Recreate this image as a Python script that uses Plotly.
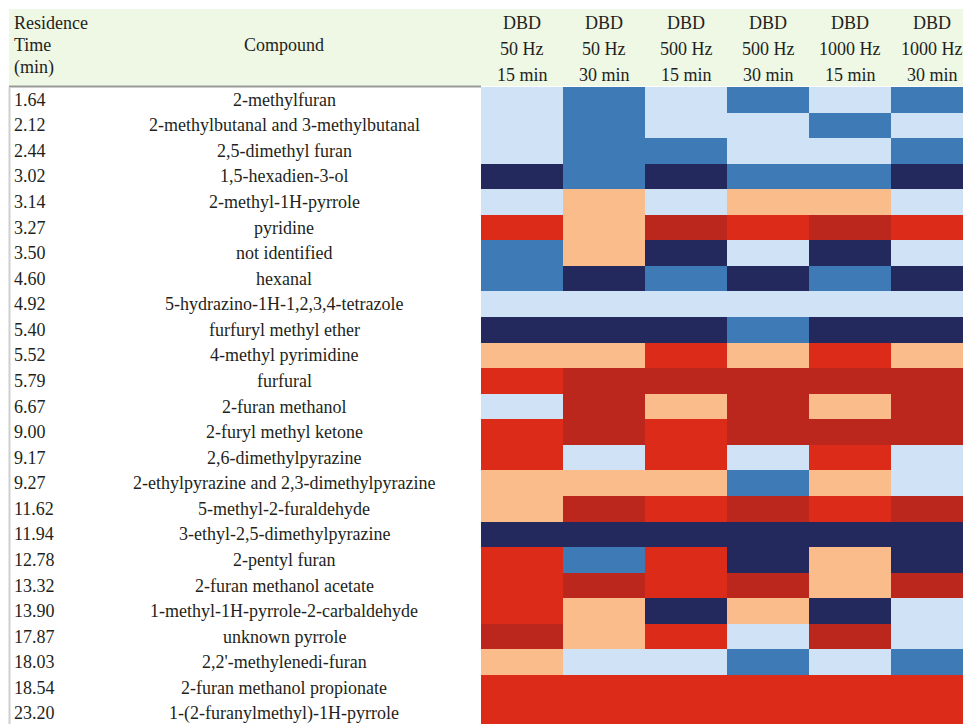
import plotly.graph_objects as go

# ---------------- data ----------------
residence_times = ["1.64", "2.12", "2.44", "3.02", "3.14", "3.27", "3.50", "4.60", "4.92",
                   "5.40", "5.52", "5.79", "6.67", "9.00", "9.17", "9.27", "11.62", "11.94",
                   "12.78", "13.32", "13.90", "17.87", "18.03", "18.54", "23.20"]
compounds = ["2-methylfuran", "2-methylbutanal and 3-methylbutanal", "2,5-dimethyl furan",
             "1,5-hexadien-3-ol", "2-methyl-1H-pyrrole", "pyridine", "not identified", "hexanal",
             "5-hydrazino-1H-1,2,3,4-tetrazole", "furfuryl methyl ether", "4-methyl pyrimidine",
             "furfural", "2-furan methanol", "2-furyl methyl ketone", "2,6-dimethylpyrazine",
             "2-ethylpyrazine and 2,3-dimethylpyrazine", "5-methyl-2-furaldehyde",
             "3-ethyl-2,5-dimethylpyrazine", "2-pentyl furan", "2-furan methanol acetate",
             "1-methyl-1H-pyrrole-2-carbaldehyde", "unknown pyrrole", "2,2'-methylenedi-furan",
             "2-furan methanol propionate", "1-(2-furanylmethyl)-1H-pyrrole"]

condition_labels = [("DBD", "50 Hz", "15 min"), ("DBD", "50 Hz", "30 min"),
                    ("DBD", "500 Hz", "15 min"), ("DBD", "500 Hz", "30 min"),
                    ("DBD", "1000 Hz", "15 min"), ("DBD", "1000 Hz", "30 min")]

# colour classes per cell (L light blue, B blue, N navy, P peach, R red, D dark red)
dbd_50hz_15 = "L L L N L R B B L N P R L R R P P N R R R D P R R".split()
dbd_50hz_30 = "B B B B P P P N L N P D D D L P D N B D P P L R R".split()
dbd_500hz_15 = "L L B N L D N B L N R D P R R P R N R R N R L R R".split()
dbd_500hz_30 = "B L L B P R L N L B P D D D L B D N N D P L B R R".split()
dbd_1000hz_15 = "L B L B P D N B L N R D P D R P R N P P N D L R R".split()
dbd_1000hz_30 = "B L B N L R L N L N P D D D L L D N N D L L B R R".split()

class_order = ["L", "B", "N", "P", "R", "D"]
class_colors = ["#d0e2f5", "#3d7ab6", "#23295d", "#fbbc8b", "#dc2b19", "#bb271c"]

# ---------------- build ----------------
columns = [dbd_50hz_15, dbd_50hz_30, dbd_500hz_15, dbd_500hz_30, dbd_1000hz_15, dbd_1000hz_30]
n_rows = len(compounds)
n_cols = len(columns)
z = [[class_order.index(columns[c][r]) for c in range(n_cols)] for r in range(n_rows)]

nc = len(class_order)
colorscale = []
for i, col in enumerate(class_colors):
    colorscale.append([i / nc, col])
    colorscale.append([(i + 1) / nc, col])

W, H = 963, 724
row_h = 25.565
col_w = 82.0
heat_left = 481.0
heat_top = 87.0

x_lo = -0.5 - heat_left / col_w
x_hi = -0.5 + (W - heat_left) / col_w
y_top = -0.5 - heat_top / row_h
y_bot = -0.5 + (H - heat_top) / row_h

fig = go.Figure()
fig.add_trace(go.Heatmap(
    z=z, x=list(range(n_cols)), y=list(range(n_rows)),
    zmin=-0.5, zmax=nc - 0.5, colorscale=colorscale, showscale=False,
    hoverinfo="skip", xgap=0, ygap=0,
))

FONT = "Liberation Serif, Times New Roman, serif"
TXT = "#231f20"
FS = 18

def px(xp):
    return xp / W

def py(yp):
    return 1 - yp / H

shapes = [
    dict(type="rect", xref="paper", yref="paper", x0=px(9), x1=1.0, y0=py(86), y1=py(9),
         fillcolor="#eff7e5", line=dict(width=0), layer="below"),
    dict(type="line", xref="paper", yref="paper", x0=px(9), x1=px(481), y0=py(86.5), y1=py(86.5),
         line=dict(color="#9a9a9a", width=2)),
    dict(type="line", xref="paper", yref="paper", x0=px(9.5), x1=px(9.5), y0=py(87), y1=0,
         line=dict(color="#cfcfcf", width=2)),
]

ann = []
for t, yy in zip(["Residence", "Time", "(min)"], [23, 45, 68]):
    ann.append(dict(x=px(12), y=py(yy), xref="paper", yref="paper", text=t, showarrow=False,
                    xanchor="left", yanchor="middle", font=dict(family=FONT, size=FS, color=TXT)))
ann.append(dict(x=px(284), y=py(45), xref="paper", yref="paper", text="Compound", showarrow=False,
                xanchor="center", yanchor="middle", font=dict(family=FONT, size=FS, color=TXT)))
for c, lab in enumerate(condition_labels):
    for t, yy in zip(lab, [23, 49, 75]):
        ann.append(dict(x=c, y=py(yy), xref="x", yref="paper", text=t, showarrow=False,
                        xanchor="center", yanchor="middle", font=dict(family=FONT, size=FS, color=TXT)))
for r in range(n_rows):
    ann.append(dict(x=px(12), y=r, xref="paper", yref="y", text=residence_times[r], showarrow=False,
                    xanchor="left", yanchor="middle", font=dict(family=FONT, size=FS, color=TXT)))
    ann.append(dict(x=px(284), y=r, xref="paper", yref="y", text=compounds[r], showarrow=False,
                    xanchor="center", yanchor="middle", font=dict(family=FONT, size=FS, color=TXT)))

fig.update_layout(
    width=W, height=H, margin=dict(l=0, r=0, t=0, b=0),
    paper_bgcolor="white", plot_bgcolor="white",
    xaxis=dict(range=[x_lo, x_hi], visible=False, fixedrange=True),
    yaxis=dict(range=[y_bot, y_top], visible=False, fixedrange=True),
    shapes=shapes, annotations=ann, showlegend=False,
)

fig.write_html("out.html", config={"displayModeBar": False},
               post_script="document.body.style.margin='0';document.body.style.overflow='hidden';")
